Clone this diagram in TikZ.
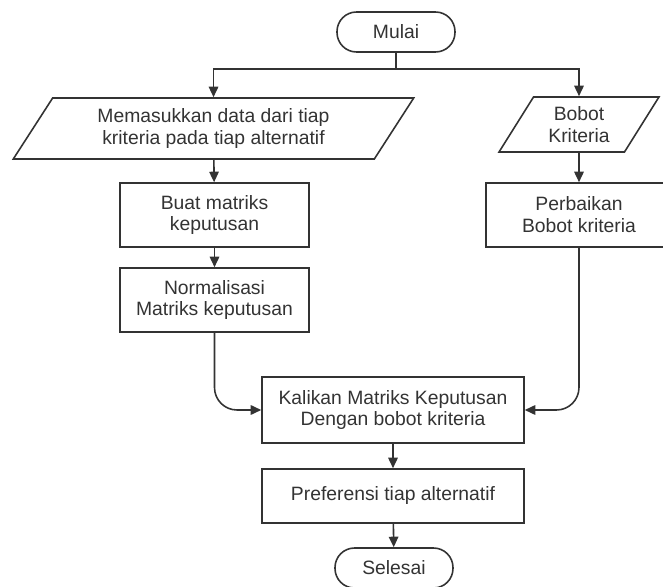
\documentclass[tikz,border=0pt]{standalone}
\usepackage{fontspec}
\setmainfont{Liberation Sans}
\usetikzlibrary{arrows.meta,shapes.geometric}

\begin{document}
\begin{tikzpicture}[x=0.02cm,y=-0.02cm,
  line width=0.9pt, draw=black!80,
  every node/.style={font=\fontsize{11}{12.5}\selectfont, text=black!80, align=center},
  termbox/.style={draw, rounded corners=0.39cm, minimum width=2.36cm, minimum height=0.8cm},
  procbox/.style={draw, minimum height=1.28cm},
  iobox/.style={draw, trapezium, trapezium left angle=60, trapezium right angle=120,
    trapezium stretches=true},
  flowarrow/.style={-{Triangle[length=2.1mm,width=1.9mm]}}]

\useasboundingbox (0,0) rectangle (663,587);

% Start and input
\node[termbox] (mulai) at (396,32) {Mulai};
\node[iobox, minimum width=8.02cm, minimum height=1.22cm] (inputdata) at (213.5,128.5)
  {Memasukkan data dari tiap\\kriteria pada tiap alternatif};
\node[iobox, minimum width=3.2cm, minimum height=1.1cm] (inputbobot) at (579,124.5)
  {Bobot\\Kriteria};

% Process boxes
\node[procbox, minimum width=3.78cm] (buatmatriks) at (214.5,215) {Buat matriks\\keputusan};
\node[procbox, minimum width=3.78cm] (normalisasi) at (214.5,300) {Normalisasi\\Matriks keputusan};
\node[procbox, minimum width=3.72cm] (perbaikan) at (579,215) {Perbaikan\\Bobot kriteria};
\node[procbox, minimum width=5.24cm, minimum height=1.32cm] (kalikan) at (393,410)
  {Kalikan Matriks Keputusan\\Dengan bobot kriteria};
\node[procbox, minimum width=5.24cm, minimum height=1.08cm] (preferensi) at (393,496)
  {Preferensi tiap alternatif};
\node[termbox] (selesai) at (394,568) {Selesai};

% Split under Mulai
\coordinate (split) at (396,69);
\draw (mulai) -- (split);
\draw[flowarrow] (split) -| (inputdata.north);
\draw[flowarrow] (split) -| (inputbobot.north);

% Left and right columns
\draw[flowarrow] (inputdata) -- (buatmatriks);
\draw[flowarrow] (buatmatriks) -- (normalisasi);
\draw[flowarrow] (inputbobot) -- (perbaikan);
\draw[flowarrow, rounded corners=0.45cm] (normalisasi.south) |- (kalikan.west);
\draw[flowarrow, rounded corners=0.45cm] (perbaikan.south) |- (kalikan.east);

% Bottom
\draw[flowarrow] (kalikan) -- (preferensi);
\draw[flowarrow] (preferensi) -- (selesai);

\end{tikzpicture}
\end{document}
